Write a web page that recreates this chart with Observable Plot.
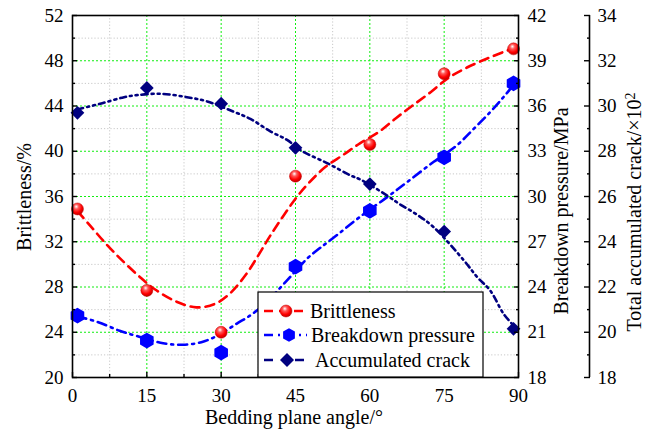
<!DOCTYPE html>
<html><head><meta charset="utf-8">
<script src="https://cdn.jsdelivr.net/npm/d3@7"></script>
<script src="https://cdn.jsdelivr.net/npm/@observablehq/plot@0.6"></script>
<style>
html,body{margin:0;padding:0;background:#fff}
#chart svg, #chart svg text, #chart svg tspan { font-family: "Liberation Serif", "DejaVu Serif", "Times New Roman", Times, serif !important; }
</style>
</head><body><div id="chart"></div>
<script>
// ---- data ----
const angles = [1, 15, 30, 45, 60, 75, 89];
const brittleness = [34.9, 27.7, 24.0, 37.8, 40.6, 46.85, 49.05];   // %
const pressure = [22.1, 20.45, 19.65, 25.35, 29.05, 32.6, 37.5];    // MPa
const crack = [29.7, 30.8, 30.1, 28.15, 26.55, 24.45, 20.15];       // ×10^2

const brittleFitX = [1, 3.6, 7, 9.9, 13.3, 16.6, 21, 25, 28.7, 31.7, 35, 37.5, 40, 45, 47.7, 51, 54.7, 58, 61.8, 65.2, 68.5, 72.2, 75.9, 79.6, 83.7, 87.7, 89];
const brittleFitY = [34.7, 33.4, 31.7, 30.4, 29.0, 27.8, 26.7, 26.2, 26.5, 27.4, 29.1, 30.8, 32.6, 35.8, 37.2, 38.6, 39.7, 40.7, 41.7, 42.9, 44.0, 45.2, 46.5, 47.4, 48.2, 48.9, 49.1];

const pressureFitX = [1, 5.2, 9.5, 13.3, 18.3, 22.3, 26, 29.4, 33.1, 35.8, 38.5, 43.2, 47.4, 50, 53.4, 57.8, 63.5, 67.5, 72.9, 77.6, 81, 84.3, 87, 89];
const pressureFitY = [22.05, 21.67, 21.1, 20.72, 20.27, 20.17, 20.34, 20.8, 21.56, 22.1, 22.8, 24.4, 25.9, 26.6, 27.45, 28.6, 29.96, 30.95, 32.3, 33.4, 34.5, 35.6, 36.6, 37.4];

const crackFitX = [1, 5.6, 10.4, 13, 17.8, 23.1, 27.2, 32.5, 35.9, 40, 43.3, 46, 51.7, 56.1, 58.1, 63.5, 65.9, 69.5, 72.9, 79, 81.7, 84.3, 87, 89];
const crackFitY = [29.85, 30.1, 30.39, 30.48, 30.54, 30.39, 30.2, 29.75, 29.43, 28.87, 28.5, 28.05, 27.44, 26.93, 26.75, 26.04, 25.68, 25.2, 24.64, 23.17, 22.43, 21.84, 20.81, 20.3];

const xTicks = [0, 15, 30, 45, 60, 75, 90];
const xMinor = [7.5, 22.5, 37.5, 52.5, 67.5, 82.5];
const yTicks = [20, 24, 28, 32, 36, 40, 44, 48, 52];
const yMinor = [22, 26, 30, 34, 38, 42, 46, 50];
const pTicks = [18, 21, 24, 27, 30, 33, 36, 39, 42];
const pMinor = [19.5, 22.5, 25.5, 28.5, 31.5, 34.5, 37.5, 40.5];
const cTicks = [18, 20, 22, 24, 26, 28, 30, 32, 34];
const cMinor = [19, 21, 23, 25, 27, 29, 31, 33];
const legendLabels = ["Brittleness", "Breakdown pressure", "Accumulated crack"];

const xDomain = [0, 90], yDomain = [20, 52], pDomain = [18, 42], cDomain = [18, 34];
const RED = "#ff0000", BLUE = "#0000ff", NAVY = "#000080", GREEN = "#11ee11";
const FONT = "Liberation Serif, DejaVu Serif, Times New Roman, serif";

// right-axis values mapped onto the left (brittleness) scale
const pToY = p => yDomain[0] + (p - pDomain[0]) * (yDomain[1] - yDomain[0]) / (pDomain[1] - pDomain[0]);
const yToP = y => pDomain[0] + (y - yDomain[0]) * (pDomain[1] - pDomain[0]) / (yDomain[1] - yDomain[0]);
const cToY = c => yDomain[0] + (c - cDomain[0]) * (yDomain[1] - yDomain[0]) / (cDomain[1] - cDomain[0]);
const yToC = y => cDomain[0] + (y - yDomain[0]) * (cDomain[1] - cDomain[0]) / (yDomain[1] - yDomain[0]);

const pts = angles.map((a, i) => ({a, b: brittleness[i], p: pToY(pressure[i]), c: cToY(crack[i])}));
const bFit = brittleFitX.map((x, i) => ({x, y: brittleFitY[i]}));
const pFit = pressureFitX.map((x, i) => ({x, y: pToY(pressureFitY[i])}));
const cFit = crackFitX.map((x, i) => ({x, y: cToY(crackFitY[i])}));

const blank = () => "";
const chart = Plot.plot({
  width: 651, height: 433,
  marginLeft: 72, marginRight: 133, marginTop: 15, marginBottom: 56,
  style: {fontFamily: FONT, fontSize: "19px", color: "black", background: "white"},
  x: {domain: xDomain, label: null},
  y: {domain: yDomain, label: null},
  marks: [
    Plot.gridX(xMinor, {stroke: "#c8c8c8", strokeOpacity: 1, strokeDasharray: "1.2,2"}),
    Plot.gridY(yMinor, {stroke: "#c8c8c8", strokeOpacity: 1, strokeDasharray: "1.2,2"}),
    Plot.gridX(xTicks, {stroke: GREEN, strokeOpacity: 1, strokeDasharray: "2,2"}),
    Plot.gridY(yTicks, {stroke: GREEN, strokeOpacity: 1, strokeDasharray: "2,2"}),
    Plot.line(bFit, {x: "x", y: "y", stroke: RED, strokeWidth: 2.6, strokeDasharray: "9,6", curve: "catmull-rom"}),
    Plot.line(pFit, {x: "x", y: "y", stroke: BLUE, strokeWidth: 2.6, strokeDasharray: "9,5,2,5", curve: "catmull-rom"}),
    Plot.line(cFit, {x: "x", y: "y", stroke: NAVY, strokeWidth: 2.6, strokeDasharray: "6,4,2,4,2,4", curve: "catmull-rom"}),
    Plot.dot(pts, {x: "a", y: "c", symbol: "diamond2", r: 6.2, fill: NAVY}),
    Plot.dot(pts, {x: "a", y: "p", symbol: "hexagon", r: 6.8, fill: BLUE}),
    Plot.dot(pts, {x: "a", y: "b", r: 6, fill: "url(#sphere)", stroke: "#c00000", strokeWidth: 0.5}),
    Plot.frame({stroke: "black", strokeWidth: 1.6}),
    // bottom axis
    Plot.axisX(xTicks, {tickSize: 0, tickPadding: 11, fontSize: 19, label: null}),
    Plot.axisX(xTicks, {tickSize: -5, tickFormat: blank, label: null, strokeWidth: 1.4}),
    Plot.axisX(xMinor, {tickSize: -3, tickFormat: blank, label: null, strokeWidth: 1.4}),
    // left axis
    Plot.axisY(yTicks, {anchor: "left", tickSize: 0, tickPadding: 9, fontSize: 19, label: null}),
    Plot.axisY(yTicks, {anchor: "left", tickSize: -5, tickFormat: blank, label: null, strokeWidth: 1.4}),
    Plot.axisY(yMinor, {anchor: "left", tickSize: -3, tickFormat: blank, label: null, strokeWidth: 1.4}),
    // right axis 1 (pressure)
    Plot.axisY(pTicks.map(pToY), {anchor: "right", tickSize: 0, tickPadding: 9, fontSize: 19, label: null, tickFormat: y => String(Math.round(yToP(y)))}),
    Plot.axisY(pTicks.map(pToY), {anchor: "right", tickSize: -5, tickFormat: blank, label: null, strokeWidth: 1.4}),
    Plot.axisY(pMinor.map(pToY), {anchor: "right", tickSize: -3, tickFormat: blank, label: null, strokeWidth: 1.4}),
    // right axis 2 (crack), offset outside the frame
    Plot.ruleX([xDomain[1]], {dx: 71, stroke: "black", strokeWidth: 1.6}),
    Plot.axisY(cTicks.map(cToY), {anchor: "right", dx: 71, tickSize: 0, tickPadding: 8, fontSize: 19, label: null, tickFormat: y => String(Math.round(yToC(y)))}),
    Plot.axisY(cTicks.map(cToY), {anchor: "right", dx: 71, tickSize: -6, tickFormat: blank, label: null, strokeWidth: 1.4}),
    Plot.axisY(cMinor.map(cToY), {anchor: "right", dx: 71, tickSize: -3, tickFormat: blank, label: null, strokeWidth: 1.4})
  ]
});
document.getElementById("chart").appendChild(chart);

// ---- gradient for the sphere markers, titles, legend ----
const svg = d3.select(chart);
const defs = svg.insert("defs", ":first-child");
const grad = defs.append("radialGradient").attr("id", "sphere").attr("cx", "42%").attr("cy", "35%").attr("r", "65%").attr("fx", "40%").attr("fy", "30%");
grad.append("stop").attr("offset", "0%").attr("stop-color", "#ffffff");
grad.append("stop").attr("offset", "30%").attr("stop-color", "#ff5a5a");
grad.append("stop").attr("offset", "70%").attr("stop-color", "#ff0000");
grad.append("stop").attr("offset", "100%").attr("stop-color", "#c00000");

function title(txt, x, y, rot) {
  const t = svg.append("text").attr("transform", `translate(${x},${y})` + (rot ? " rotate(-90)" : ""))
    .attr("text-anchor", "middle").attr("font-family", FONT).attr("font-size", 20).attr("fill", "black");
  t.text(txt);
  return t;
}
title("Bedding plane angle/°", 294, 424, false);
title("Brittleness/%", 31, 197, true);
title("Breakdown pressure/MPa", 568, 211, true);
const t3 = title("Total accumulated crack/×10", 641, 212, true);
t3.append("tspan").attr("dy", "-0.45em").attr("font-size", 14).text("2");

const lg = svg.append("g");
lg.append("rect").attr("x", 258).attr("y", 292).attr("width", 225).attr("height", 85)
  .attr("fill", "white").attr("stroke", "black").attr("stroke-width", 1.2);
const rows = [311, 335, 360];
const textX = [310, 311, 315];
const styles = [
  {stroke: RED, dash: "9,6"},
  {stroke: BLUE, dash: "9,5,2,5"},
  {stroke: NAVY, dash: "9,22"}
];
rows.forEach((ry, i) => {
  lg.append("line").attr("x1", 264).attr("x2", 307).attr("y1", ry).attr("y2", ry)
    .attr("stroke", styles[i].stroke).attr("stroke-width", 2.6).attr("stroke-dasharray", styles[i].dash);
  lg.append("text").attr("x", textX[i]).attr("y", ry).attr("dy", "0.33em").attr("text-anchor", "start")
    .attr("font-family", FONT).attr("font-size", 20).attr("fill", "black").text(legendLabels[i]);
});
// legend markers
lg.append("circle").attr("cx", 286).attr("cy", rows[0]).attr("r", 6).attr("fill", "url(#sphere)").attr("stroke", "#c00000").attr("stroke-width", 0.5);
const hexR = 6.8;
const hex = d3.range(6).map(k => [289 + hexR * Math.sin(k * Math.PI / 3), rows[1] - hexR * Math.cos(k * Math.PI / 3)]);
lg.append("path").attr("d", "M" + hex.join("L") + "Z").attr("fill", BLUE);
const dR = 7;
lg.append("path").attr("d", `M${287},${rows[2] - dR}L${287 + dR},${rows[2]}L${287},${rows[2] + dR}L${287 - dR},${rows[2]}Z`).attr("fill", NAVY);
</script>
</body></html>
